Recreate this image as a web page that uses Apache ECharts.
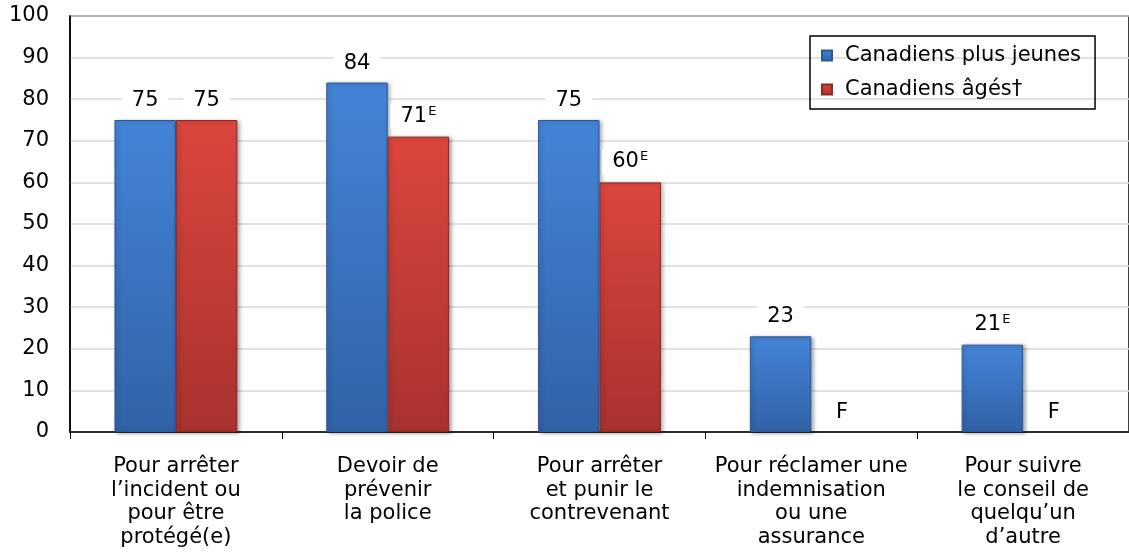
<!DOCTYPE html>
<html><head><meta charset="utf-8">
<script src="https://cdn.jsdelivr.net/npm/echarts@6/dist/echarts.min.js"></script>
<style>html,body{margin:0;padding:0;background:#fff}#c{width:1129px;height:553px}</style>
</head><body><div id="c"></div>
<script>
const categories = ['Pour arrêter\nl\u2019incident ou\npour être\nprotégé(e)', 'Devoir de\nprévenir\nla police', 'Pour arrêter\net punir le\ncontrevenant', 'Pour réclamer une\nindemnisation\nou une\nassurance', 'Pour suivre\nle conseil de\nquelqu\u2019un\nd\u2019autre'];
const seriesNames = ['Canadiens plus jeunes', 'Canadiens âgés\u2020'];
const youngValues = [75, 84, 75, 23, 21];
const youngFlags = ['', '', '', '', 'E'];
const olderValues = [75, 71, 60, 0, 0];
const olderFlags = ['', 'E', 'E', 'F', 'F'];
const yTicks = {min: 0, max: 100, interval: 10};

const FONT = 'DejaVu Sans';
const FS = 21;
function vgrad(top, bottom) {
  return new echarts.graphic.LinearGradient(0, 0, 0, 1, [
    {offset: 0, color: top}, {offset: 1, color: bottom}
  ]);
}
const blue = vgrad('#4485d8', '#3262a6');
const red = vgrad('#dc463f', '#a9322e');

function labelCfg(flags) {
  return {
    show: true, position: 'top', distance: 8,
    backgroundColor: '#fff', padding: [1, 10],
    fontFamily: FONT, fontSize: FS, color: '#000',
    formatter: p => {
      const f = flags[p.dataIndex];
      if (f === 'F') return '{n|F}';
      return '{n|' + p.value + '}' + (f ? '{e|' + f + '}' : '');
    },
    rich: {
      n: {fontFamily: FONT, fontSize: FS, color: '#000'},
      e: {fontFamily: FONT, fontSize: 13, color: '#000', padding: [0, 0, 10, 1]}
    }
  };
}

const chart = echarts.init(document.getElementById('c'));
chart.setOption({
  animation: false,
  grid: {left: 70, top: 16, right: -4, bottom: 121, show: true, borderColor: '#000', borderWidth: 1.5},
  legend: {
    orient: 'vertical', left: 810, top: 36,
    data: seriesNames,
    borderColor: '#000', borderWidth: 1.5, padding: [9, 14, 9, 11],
    itemWidth: 10, itemHeight: 10, itemGap: 13, icon: 'rect',
    textStyle: {fontFamily: FONT, fontSize: FS, color: '#000', padding: [0, 0, 0, 8]}
  },
  xAxis: {
    type: 'category', data: categories,
    axisLine: {lineStyle: {color: '#000', width: 1.5}},
    axisTick: {show: true, length: 7, lineStyle: {color: '#000'}},
    axisLabel: {interval: 0, margin: 23, fontFamily: FONT, fontSize: FS, lineHeight: 23.5, color: '#000'}
  },
  yAxis: {
    type: 'value', min: yTicks.min, max: yTicks.max, interval: yTicks.interval,
    axisLine: {show: true, lineStyle: {color: '#000', width: 1.5}},
    axisTick: {show: false},
    splitLine: {lineStyle: {color: '#d9d9d9', width: 1.5}},
    axisLabel: {margin: 21, fontFamily: FONT, fontSize: FS, color: '#000'}
  },
  series: [
    {
      name: seriesNames[0], type: 'bar', data: youngValues,
      barGap: '0%', barCategoryGap: '42%',
      itemStyle: {color: blue, borderColor: '#2b5896', borderWidth: 1, shadowColor: 'rgba(0,0,0,0.35)', shadowBlur: 4, shadowOffsetX: 2, shadowOffsetY: 1},
      label: labelCfg(youngFlags)
    },
    {
      name: seriesNames[1], type: 'bar',
      data: olderValues.map((v, i) => olderFlags[i] === 'F' ? {value: v, itemStyle: {color: 'rgba(0,0,0,0)', borderWidth: 0, shadowBlur: 0}} : v),
      itemStyle: {color: red, borderColor: '#8c2824', borderWidth: 1, shadowColor: 'rgba(0,0,0,0.35)', shadowBlur: 4, shadowOffsetX: 2, shadowOffsetY: 1},
      label: labelCfg(olderFlags)
    }
  ]
});
</script></body></html>
